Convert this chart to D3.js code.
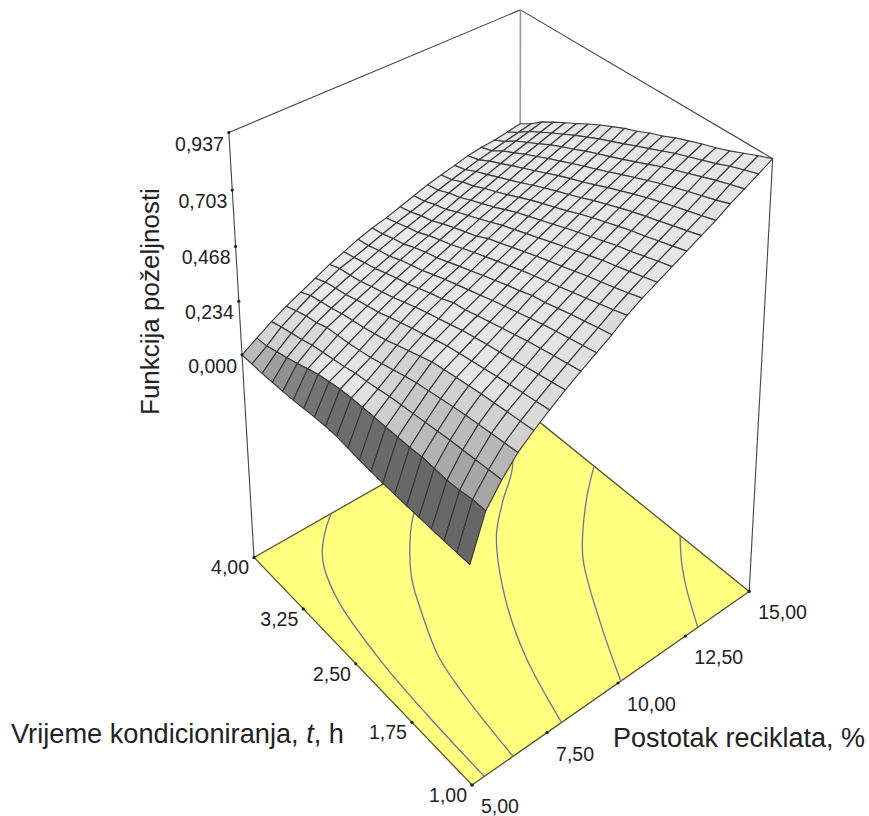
<!DOCTYPE html>
<html><head><meta charset="utf-8">
<script src="https://cdn.jsdelivr.net/npm/d3@7"></script>
<style>html,body{margin:0;background:#fff}svg{display:block}text{font-family:"Liberation Sans",Arial,sans-serif;fill:#222}</style>
</head><body><svg id="c" width="869" height="816"></svg>
<script>
const recyclate = [5,5.5,6,6.5,7,7.5,8,8.5,9,9.5,10,10.5,11,11.5,12,12.5,13,13.5,14,14.5,15];
const hours = [1,1.15,1.3,1.45,1.6,1.75,1.9,2.05,2.2,2.35,2.5,2.65,2.8,2.95,3.1,3.25,3.4,3.55,3.7,3.85,4];
// desirability: one row per hour value, one column per recyclate value
const desirability = [
[0,.175,.26,.33,.38,.425,.468,.507,.545,.582,.625,.66,.69,.72,.75,.78,.81,.845,.875,.905,.937],
[0,.174,.255,.324,.374,.416,.457,.496,.533,.57,.608,.642,.674,.704,.733,.763,.793,.825,.858,.887,.915],
[0,.165,.25,.318,.368,.408,.447,.486,.522,.557,.592,.626,.658,.687,.717,.747,.777,.808,.84,.868,.892],
[0,.16,.245,.311,.361,.399,.436,.475,.51,.544,.577,.61,.642,.67,.70,.73,.76,.79,.82,.845,.868],
[.002,.163,.24,.305,.355,.39,.425,.464,.498,.53,.562,.595,.628,.656,.686,.714,.743,.772,.80,.825,.848],
[.002,.165,.233,.296,.346,.38,.414,.45,.484,.515,.546,.578,.61,.638,.668,.697,.725,.753,.78,.806,.83],
[.004,.16,.226,.287,.338,.371,.404,.437,.469,.505,.53,.561,.592,.62,.65,.678,.705,.732,.76,.786,.81],
[.005,.158,.219,.277,.329,.361,.393,.423,.455,.486,.515,.545,.574,.602,.632,.658,.684,.71,.736,.763,.79],
[.008,.156,.212,.268,.32,.352,.382,.41,.44,.471,.50,.528,.556,.584,.612,.638,.663,.688,.713,.74,.765],
[.012,.155,.205,.254,.303,.337,.367,.395,.424,.453,.482,.51,.537,.564,.59,.615,.64,.665,.69,.718,.745],
[.018,.153,.195,.239,.285,.321,.352,.386,.408,.436,.464,.492,.519,.545,.57,.594,.618,.643,.668,.694,.72],
[.024,.15,.185,.225,.268,.306,.338,.365,.392,.418,.446,.473,.50,.526,.55,.574,.598,.622,.647,.672,.70],
[.024,.145,.178,.21,.25,.29,.323,.35,.376,.40,.428,.456,.482,.507,.53,.553,.577,.60,.625,.65,.675],
[.02,.135,.165,.20,.237,.274,.305,.332,.358,.381,.408,.43,.46,.484,.507,.53,.553,.577,.60,.625,.65],
[.014,.125,.155,.19,.224,.257,.287,.313,.339,.363,.388,.413,.438,.46,.484,.507,.53,.555,.578,.60,.622],
[.008,.108,.145,.184,.215,.245,.273,.30,.325,.35,.372,.395,.418,.44,.462,.484,.507,.53,.553,.572,.592],
[.004,.09,.135,.178,.205,.232,.258,.284,.31,.333,.355,.376,.398,.42,.442,.463,.485,.507,.525,.545,.563],
[.002,.075,.12,.16,.19,.217,.242,.267,.29,.312,.333,.353,.374,.397,.418,.44,.46,.48,.498,.516,.534],
[0,.06,.108,.15,.18,.207,.232,.255,.278,.30,.32,.34,.36,.382,.402,.42,.438,.455,.472,.487,.503],
[0,.045,.096,.134,.169,.196,.224,.242,.263,.284,.304,.322,.34,.36,.378,.394,.41,.423,.437,.45,.462],
[0,.04,.08,.115,.145,.175,.205,.23,.255,.275,.29,.31,.33,.35,.365,.38,.395,.405,.41,.42,.43]];
// contour lines on the floor, read as recyclate / hour pairs
const contour1X = [7.71,7.19,6.67,6.35,5.9,5.57,5.45,5.4];
const contour1T = [4,3.865,3.69,3.53,3.11,2.37,1.71,1];
const contour2X = [11.5,9.48,9.03,8.03,7.45,6.87,6.59,6.35];
const contour2T = [4,3.5,3.36,2.95,2.58,2.13,1.67,1];
const contour3X = [14.5,13.08,11.88,10.88,9.55,8.68,8];
const contour3T = [4,3.42,3.13,2.85,2.245,1.675,1];
const contour4X = [15,13.7,12.27,11.08,10.1];
const contour4T = [2.95,2.63,2.185,1.58,1];
const contour5X = [15,14.31,13.7,12.98];
const contour5T = [1.83,1.6,1.35,1];
const zTicks = [0,.234,.468,.703,.937];
const zTickLabels = ["0,000","0,234","0,468","0,703","0,937"];
const xTicks = [5,7.5,10,12.5,15];
const xTickLabels = ["5,00","7,50","10,00","12,50","15,00"];
const tTicks = [1,1.75,2.5,3.25,4];
const tTickLabels = ["1,00","1,75","2,50","3,25","4,00"];

const xs = d3.scaleLinear().domain([5,15]).range([0,1]);
const ts = d3.scaleLinear().domain([1,4]).range([0,1]);
const zs = d3.scaleLinear().domain([-.937,.937]).range([0,1]);

// camera: perspective fitted to the box corners seen on screen [u,v,w,px,py]
const corners = [[0,0,0,473,785],[1,0,0,748,592],[0,1,0,253,557],[1,1,0,521,406],
                 [0,1,1,229,133],[1,0,1,773,158],[1,1,1,520,10]];
function fit(pts){
  const n=11,A=Array.from({length:n},()=>new Array(n+1).fill(0));
  const add=(r,b)=>{for(let i=0;i<n;i++){for(let j=0;j<n;j++)A[i][j]+=r[i]*r[j];A[i][n]+=r[i]*b;}};
  pts.forEach(([u,v,w,X,Y])=>{const x=X/500,y=Y/500;
    add([u,v,w,1,0,0,0,0,-x*u,-x*v,-x*w],x);
    add([0,0,0,0,u,v,w,1,-y*u,-y*v,-y*w],y);});
  for(let i=0;i<n;i++){let m=i;for(let r=i+1;r<n;r++)if(Math.abs(A[r][i])>Math.abs(A[m][i]))m=r;
    [A[i],A[m]]=[A[m],A[i]];
    for(let r=0;r<n;r++)if(r!==i){const f=A[r][i]/A[i][i];for(let c=i;c<=n;c++)A[r][c]-=f*A[i][c];}}
  return A.map((row,i)=>row[n]/row[i]);
}
const P=fit(corners);
function proj(x,t,z){const u=xs(x),v=ts(t),w=zs(z);
  const d=P[8]*u+P[9]*v+P[10]*w+1;
  return [500*(P[0]*u+P[1]*v+P[2]*w+P[3])/d,500*(P[4]*u+P[5]*v+P[6]*w+P[7])/d];}

const svg=d3.select("#c");
const zF=zs.domain()[0], zT=zs.domain()[1];
const line=d3.line();
// floor
svg.append("path").attr("d",line([[5,1],[15,1],[15,4],[5,4]].map(d=>proj(d[0],d[1],zF)))+"Z")
  .attr("fill","#ffff80").attr("stroke","#55552a").attr("stroke-width",1.3);
// contours
const curve=d3.line().curve(d3.curveCatmullRom.alpha(.5));
[[contour1X,contour1T],[contour2X,contour2T],[contour3X,contour3T],[contour4X,contour4T],[contour5X,contour5T]].forEach(([cx,ct])=>{
  svg.append("path").attr("d",curve(cx.map((x,i)=>proj(x,ct[i],zF))))
    .attr("stroke","#70709c").attr("stroke-width",1.3).attr("fill","none");
});
// frame
const frame=[[[5,4,zF],[5,4,zT]],[[5,4,zT],[15,4,zT]],[[15,4,zT],[15,1,zT]],[[15,1,zT],[15,1,zF]],[[15,4,zT],[15,4,zF]]];
frame.forEach((s,i)=>svg.append("path").attr("d",line(s.map(d=>proj(...d))))
  .attr("stroke",i===4?"#999":"#444").attr("stroke-width",i===4?1.6:1.1).attr("fill","none"));
// surface
const shade=d3.scaleLinear().domain([.3,.7,1,1.4,1.8,2.4,3.5]).range([236,230,210,182,158,130,120]).clamp(true);
const cells=[];
for(let j=0;j<20;j++)for(let i=0;i<20;i++){
  const c=[[i,j],[i+1,j],[i+1,j+1],[i,j+1]];
  const zz=c.map(([a,b])=>desirability[b][a]);
  const zu=((zz[1]+zz[2])-(zz[0]+zz[3]))/2/.05, zv=((zz[2]+zz[3])-(zz[0]+zz[1]))/2/.05;
  const g=shade(Math.hypot(zu,zv))*(i===0?.85:1);
  cells.push({i,j,pts:c.map(([a,b])=>proj(recyclate[a],hours[b],desirability[b][a])),g});
}
cells.sort((p,q)=>(q.i+q.j)-(p.i+p.j));
svg.append("g").selectAll("path").data(cells).join("path")
  .attr("d",d=>line(d.pts)+"Z").attr("fill",d=>d3.rgb(d.g,d.g,d.g))
  .attr("stroke","#3a3a3a").attr("stroke-width",1.15).attr("stroke-linejoin","round");
// ticks and labels
const tick=p=>svg.append("circle").attr("cx",p[0]).attr("cy",p[1]).attr("r",1.6).attr("fill","#222");
const label=(p,s,a,dx,dy)=>svg.append("text").attr("x",p[0]+dx).attr("y",p[1]+dy).attr("text-anchor",a).attr("font-size",19.5).text(s);
zTicks.forEach((z,i)=>{const p=proj(5,4,z);tick(p);label(p,zTickLabels[i],"end",-5,18);});
xTicks.forEach((x,i)=>{const p=proj(x,1,zF);tick(p);label(p,xTickLabels[i],"start",9,28);});
tTicks.forEach((t,i)=>{const p=proj(5,t,zF);tick(p);label(p,tTickLabels[i],"end",-5,17);});
// titles
svg.append("text").attr("transform","translate(159,415) rotate(-90)").attr("font-size",26).text("Funkcija poželjnosti");
const vt=svg.append("text").attr("x",11).attr("y",743).attr("font-size",27.2);
vt.append("tspan").text("Vrijeme kondicioniranja, ");
vt.append("tspan").attr("font-style","italic").text("t");
vt.append("tspan").text(", h");
svg.append("text").attr("x",613).attr("y",747).attr("font-size",27).text("Postotak reciklata, %");
</script></body></html>
